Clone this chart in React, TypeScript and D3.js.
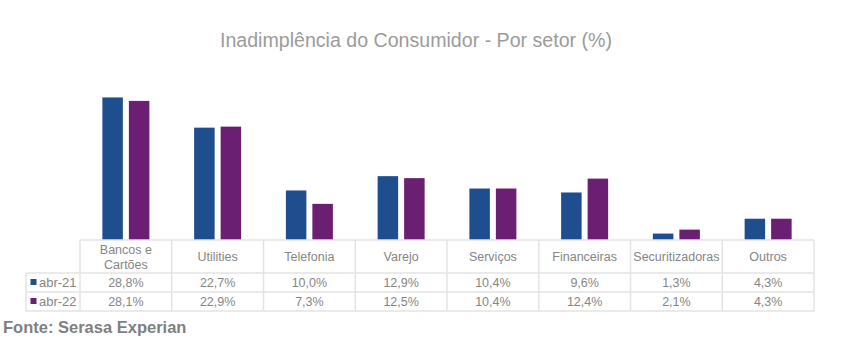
import React from "react";
import * as d3 from "d3";

const categories = ["Bancos e\nCartões", "Utilities", "Telefonia", "Varejo", "Serviços", "Financeiras", "Securitizadoras", "Outros"];
const seriesNames = ["abr-21", "abr-22"];
const abr21 = [28.8, 22.7, 10.0, 12.9, 10.4, 9.6, 1.3, 4.3];
const abr22 = [28.1, 22.9, 7.3, 12.5, 10.4, 12.4, 2.1, 4.3];
const colors = ["#1f4e8e", "#6b1f73"];

const W = 842, H = 345;
const left = 80, right = 814, base = 240;
const legendLeft = 26;
const rowY = [240, 273, 292, 311];

export default function App() {
  const series = [abr21, abr22];
  const x = d3.scaleBand<number>().domain(d3.range(categories.length)).range([left, right]).padding(0);
  const y = d3.scaleLinear().domain([0, 30]).range([base, 91.5]);
  const bw = 20.5, gap = 6;
  const fmt = (v: number) => v.toFixed(1).replace(".", ",") + "%";
  const font = "Arial, 'Liberation Sans', sans-serif";
  const grid = "#e3e3e3";
  const txt = "#858585";
  return (
    <div style={{ position: "absolute", left: 0, top: 0 }}>
      <svg width={W} height={H} style={{ display: "block" }} fontFamily={font}>
        <rect width={W} height={H} fill="#fff" />
        <text x={416} y={47} textAnchor="middle" fontSize={19.6} fill="#9b9b9b">
          Inadimplência do Consumidor - Por setor (%)
        </text>
        {categories.map((c, i) => {
          const cx = (x(i) as number) + x.bandwidth() / 2;
          return series.map((s, j) => {
            const bx = j === 0 ? cx - gap / 2 - bw : cx + gap / 2;
            return (
              <rect key={`${i}-${j}`} x={bx} y={y(s[i])} width={bw} height={base - y(s[i])} fill={colors[j]} />
            );
          });
        })}
        {/* table grid */}
        <g stroke={grid} strokeWidth={1.5} fill="none">
          <line x1={left} x2={right} y1={rowY[0]} y2={rowY[0]} />
          {rowY.slice(1).map((ry) => (
            <line key={ry} x1={legendLeft} x2={right} y1={ry} y2={ry} />
          ))}
          <line x1={legendLeft} x2={legendLeft} y1={rowY[1]} y2={rowY[3]} />
          {d3.range(categories.length + 1).map((k) => {
            const lx = left + k * x.bandwidth();
            return <line key={k} x1={lx} x2={lx} y1={rowY[0]} y2={rowY[3]} />;
          })}
        </g>
        {categories.map((c, i) => {
          const cx = (x(i) as number) + x.bandwidth() / 2;
          const lines = c.split("\n");
          return (
            <g key={c} fontSize={12.5} fill={txt} textAnchor="middle">
              {lines.length === 1 ? (
                <text x={cx} y={261}>{c}</text>
              ) : (
                lines.map((l, k) => (
                  <text key={k} x={cx} y={254 + k * 14.5}>{l}</text>
                ))
              )}
              {series.map((s, j) => (
                <text key={j} x={cx} y={287 + j * 19}>{fmt(s[i])}</text>
              ))}
            </g>
          );
        })}
        {seriesNames.map((n, j) => (
          <g key={n}>
            <rect x={30.5} y={279 + j * 19} width={6} height={6} fill={colors[j]} />
            <text x={39} y={287 + j * 19} fontSize={13} fill={txt}>{n}</text>
          </g>
        ))}
        <text x={3} y={332.5} fontSize={16.5} fontWeight="bold" fill="#7f7f7f">Fonte: Serasa Experian</text>
      </svg>
    </div>
  );
}
